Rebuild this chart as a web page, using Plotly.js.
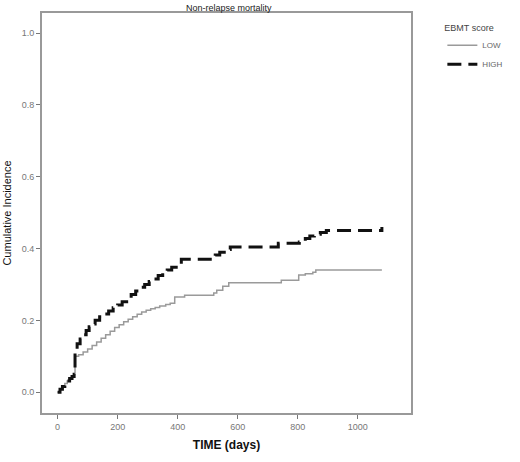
<!DOCTYPE html>
<html>
<head>
<meta charset="utf-8">
<script src="https://cdn.plot.ly/plotly-3.0.1.min.js"></script>
<style>
  html, body { margin: 0; padding: 0; background: #fff; }
  #chart { width: 520px; height: 462px; }
</style>
</head>
<body>
<div id="chart"></div>
<script>
// step times (days) and cumulative incidence for each EBMT score group
var lowDays = [0, 8, 16, 24, 32, 40, 48, 55, 58, 70, 85, 100, 115, 130, 145, 160, 175, 190, 205, 220, 235, 250, 265, 280, 295, 310, 325, 340, 360, 375, 390, 423, 520, 530, 550, 570, 745, 803, 825, 850, 860, 1080];
var lowInc = [0, 0.008, 0.016, 0.024, 0.031, 0.038, 0.044, 0.05, 0.1, 0.104, 0.112, 0.12, 0.13, 0.14, 0.15, 0.16, 0.17, 0.18, 0.188, 0.196, 0.203, 0.21, 0.217, 0.223, 0.228, 0.232, 0.236, 0.24, 0.244, 0.248, 0.265, 0.27, 0.276, 0.284, 0.295, 0.305, 0.312, 0.326, 0.33, 0.334, 0.34, 0.34];

var highDays = [0, 8, 16, 24, 32, 40, 48, 55, 58, 65, 75, 85, 95, 105, 115, 125, 140, 155, 170, 185, 200, 215, 230, 245, 260, 275, 290, 305, 320, 335, 350, 365, 380, 395, 412, 525, 540, 555, 575, 735, 805, 825, 840, 855, 875, 895, 1080];
var highInc = [0, 0.008, 0.016, 0.024, 0.031, 0.038, 0.044, 0.05, 0.11, 0.135, 0.148, 0.16, 0.172, 0.182, 0.19, 0.2, 0.21, 0.218, 0.226, 0.235, 0.243, 0.252, 0.262, 0.272, 0.282, 0.292, 0.3, 0.308, 0.315, 0.325, 0.333, 0.34, 0.348, 0.355, 0.37, 0.382, 0.39, 0.397, 0.404, 0.415, 0.418, 0.428, 0.435, 0.44, 0.445, 0.45, 0.46];

var groupNames = ['LOW', 'HIGH'];
var xTicks = [0, 200, 400, 600, 800, 1000];
var yTicks = [0, 0.2, 0.4, 0.6, 0.8, 1.0];

var low = {
  x: lowDays,
  y: lowInc,
  name: groupNames[0],
  type: 'scatter',
  mode: 'lines',
  line: { shape: 'hv', color: '#9a9a9a', width: 1.5 }
};
var high = {
  x: highDays,
  y: highInc,
  name: groupNames[1],
  type: 'scatter',
  mode: 'lines',
  line: { shape: 'hv', color: '#111', width: 3, dash: '14px,7px' }
};

var axisStyle = {
  showgrid: false,
  zeroline: false,
  showline: true,
  mirror: true,
  linecolor: '#999',
  linewidth: 2,
  ticks: 'outside',
  ticklen: 4,
  tickcolor: '#777',
  tickfont: { family: 'Liberation Sans, Arial, sans-serif', size: 9, color: '#777' }
};

var layout = {
  width: 520,
  height: 462,
  margin: { l: 42, r: 103, t: 13, b: 49 },
  paper_bgcolor: '#fff',
  plot_bgcolor: '#fff',
  title: {
    text: 'Non-relapse mortality',
    font: { family: 'Liberation Sans, Arial, sans-serif', size: 9, color: '#222' },
    x: 0.44, xanchor: 'center', y: 0.99, yanchor: 'top'
  },
  xaxis: Object.assign({}, axisStyle, {
    range: [-52, 1177],
    tickvals: xTicks,
    title: { text: '<b>TIME (days)</b>', standoff: 10,
      font: { family: 'Liberation Sans, Arial, sans-serif', size: 12, color: '#111' } }
  }),
  yaxis: Object.assign({}, axisStyle, {
    range: [-0.058, 1.056],
    tickvals: yTicks,
    tickformat: '.1f',
    title: { text: 'Cumulative Incidence', standoff: 8,
      font: { family: 'Liberation Sans, Arial, sans-serif', size: 11, color: '#111' } }
  }),
  legend: {
    x: 1.085, xanchor: 'left', y: 0.985, yanchor: 'top',
    title: { text: 'EBMT score', font: { family: 'Liberation Sans, Arial, sans-serif', size: 9, color: '#444' } },
    font: { family: 'Liberation Sans, Arial, sans-serif', size: 8, color: '#666' },
    itemwidth: 30,
    tracegroupgap: 0
  },
  showlegend: true
};

Plotly.newPlot('chart', [low, high], layout, { displayModeBar: false });
</script>
</body>
</html>
